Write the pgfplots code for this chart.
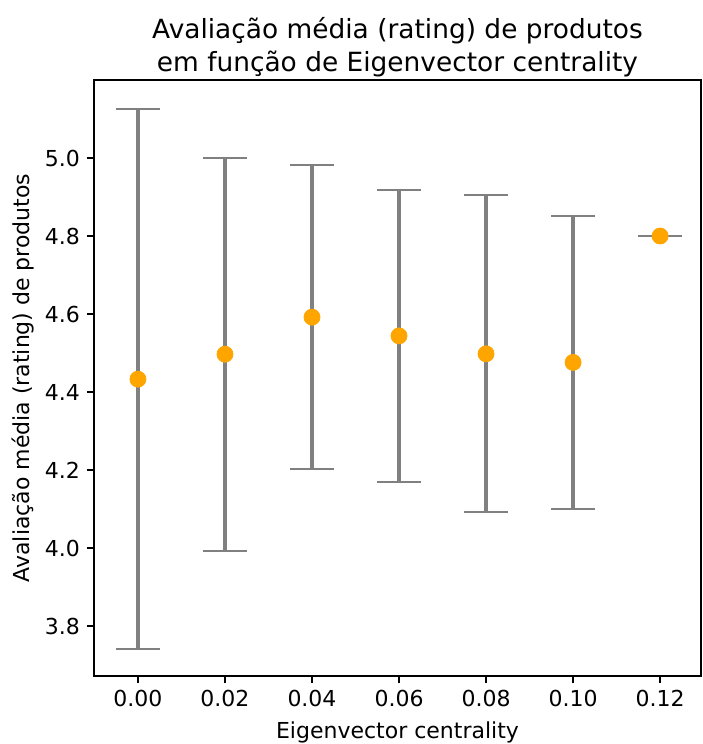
\documentclass[border=0pt]{standalone}
\usepackage{pgfplots}
\pgfplotsset{compat=1.18}
\usepackage{pgfplotstable}
\usepackage{fontspec}
\setmainfont{DejaVu Sans}

\definecolor{bargray}{RGB}{128,128,128}
\definecolor{dotorange}{RGB}{255,165,0}

% mean rating and its standard deviation per centrality bin
\pgfplotstableread{
x     y      e
0.00  4.433  0.693
0.02  4.497  0.504
0.04  4.592  0.390
0.06  4.544  0.374
0.08  4.498  0.406
0.10  4.476  0.376
0.12  4.800  0.000
}\ratingdata

\begin{document}
\begin{tikzpicture}
\begin{axis}[
  scale only axis,
  width=303.5pt, height=298pt,
  xmin=-0.0101, xmax=0.1294,
  ymin=3.672, ymax=5.2,
  xtick={0,0.02,0.04,0.06,0.08,0.10,0.12},
  ytick={3.8,4.0,4.2,4.4,4.6,4.8,5.0},
  xticklabel style={/pgf/number format/.cd, fixed, fixed zerofill, precision=2},
  yticklabel style={/pgf/number format/.cd, fixed, fixed zerofill, precision=1},
  /pgf/number format/assume math mode=true,
  tick align=outside,
  major tick length=3.5pt,
  tick style={line width=0.8pt, black},
  axis line style={line width=0.8pt},
  xtick pos=bottom, ytick pos=left,
  ticklabel style={font=\fontsize{11}{13}\selectfont},
  label style={font=\fontsize{11}{13}\selectfont},
  title style={font=\fontsize{13.2}{16.5}\selectfont, align=center,
    at={(rel axis cs:0.5,1)}, anchor=center, yshift=10.3pt},
  xlabel style={at={(rel axis cs:0.5,0)}, anchor=center, yshift=-28pt},
  ylabel style={at={(axis description cs:-0.117,0.5)}, anchor=center},
  title={Avaliação média (rating) de produtos\\em função de Eigenvector centrality},
  xlabel={Eigenvector centrality},
  ylabel={Avaliação média (rating) de produtos},
  clip=false,
]
\addplot[
  only marks,
  mark=*, mark size=4pt,
  mark options={fill=dotorange, draw=dotorange},
  error bars/.cd,
    y dir=both, y explicit,
    error bar style={line width=1.6pt, bargray},
    error mark options={rotate=90, mark size=11pt, line width=1pt, bargray},
] table[x=x, y=y, y error=e] {\ratingdata};
\coordinate (sw) at (rel axis cs:0,0);
\coordinate (ne) at (rel axis cs:1,1);
\end{axis}
\pgfresetboundingbox
\path ([shift={(-47pt,-34pt)}]sw) rectangle ([shift={(0.5pt,40pt)}]ne);
\end{tikzpicture}
\end{document}
